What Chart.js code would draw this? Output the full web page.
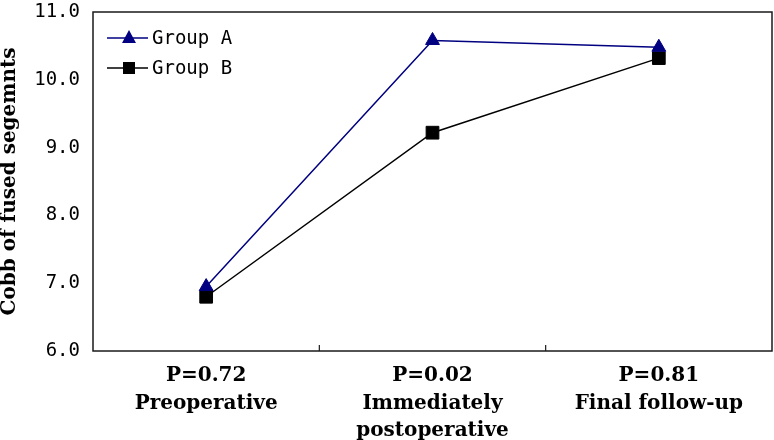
<!DOCTYPE html>
<html>
<head>
<meta charset="utf-8">
<script src="https://cdn.jsdelivr.net/npm/chart.js@4"></script>
<style>
  body { margin: 0; background: #fff; }
</style>
</head>
<body>
<canvas id="cobbChart" width="774" height="440"></canvas>
<script>
// categories (p value on first line)
let categories = [
  ["P=0.72", "Preoperative"],
  ["P=0.02", "Immediately", "postoperative"],
  ["P=0.81", "Final follow-up"],
];
let groupA = [6.95, 10.58, 10.48];
let groupB = [6.8, 9.22, 10.32];
let yTicks = [6.0, 7.0, 8.0, 9.0, 10.0, 11.0];

let navy = "#000080";

// frame, inner tick marks and the legend inside the plot
let framePlugin = {
  id: "frame",
  afterDraw(chart) {
    let ctx = chart.ctx;
    let a = chart.chartArea;
    let xs = chart.scales.x;
    ctx.save();
    ctx.strokeStyle = "#1a1a1a";
    ctx.lineWidth = 1.5;
    ctx.strokeRect(a.left, a.top, a.right - a.left, a.bottom - a.top);
    ctx.lineWidth = 1.2;
    for (let i = 0; i < categories.length - 1; i++) {
      let bx = (xs.getPixelForValue(i) + xs.getPixelForValue(i + 1)) / 2;
      ctx.beginPath();
      ctx.moveTo(bx, a.bottom);
      ctx.lineTo(bx, a.bottom - 6);
      ctx.stroke();
    }

    // legend
    let items = [
      { text: "Group A", color: navy, shape: "triangle", y: a.top + 26 },
      { text: "Group B", color: "#000", shape: "rect", y: a.top + 56 },
    ];
    ctx.font = "19px 'DejaVu Sans Mono'";
    ctx.textBaseline = "middle";
    ctx.textAlign = "left";
    items.forEach(function (it) {
      ctx.strokeStyle = it.color;
      ctx.fillStyle = it.color;
      ctx.lineWidth = 1.5;
      ctx.beginPath();
      ctx.moveTo(a.left + 14, it.y);
      ctx.lineTo(a.left + 55, it.y);
      ctx.stroke();
      let cx = a.left + 36;
      ctx.beginPath();
      if (it.shape === "triangle") {
        ctx.moveTo(cx, it.y - 8);
        ctx.lineTo(cx + 7, it.y + 5);
        ctx.lineTo(cx - 7, it.y + 5);
        ctx.closePath();
      } else {
        ctx.rect(cx - 6, it.y - 6, 12, 12);
      }
      ctx.fill();
      ctx.fillStyle = "#000";
      ctx.fillText(it.text, a.left + 59, it.y + 1);
    });
    ctx.restore();
  },
};

let config = {
  type: "line",
  data: {
    labels: categories,
    datasets: [
      {
        label: "Group A",
        data: groupA,
        borderColor: navy,
        backgroundColor: navy,
        borderWidth: 1.5,
        pointStyle: "triangle",
        pointRadius: 8,
        pointBorderWidth: 1,
      },
      {
        label: "Group B",
        data: groupB,
        borderColor: "#000",
        backgroundColor: "#000",
        borderWidth: 1.5,
        pointStyle: "rect",
        pointRadius: 9,
        pointBorderWidth: 1,
      },
    ],
  },
  options: {
    responsive: false,
    animation: false,
    layout: { autoPadding: false, padding: { top: 12, right: 2, left: 0, bottom: 0 } },
    plugins: {
      legend: { display: false },
      tooltip: { enabled: false },
    },
    scales: {
      x: {
        offset: true,
        grid: { display: false, drawTicks: false },
        border: { display: false },
        ticks: {
          color: "#000",
          font: { family: "'DejaVu Serif'", size: 20, weight: "bold", lineHeight: 1.38 },
          padding: 11,
          maxRotation: 0,
          autoSkip: false,
        },
        afterFit(s) {
          s.height = 89;
          s.paddingLeft = 0;
          s.paddingRight = 0;
        },
      },
      y: {
        min: yTicks[0],
        max: yTicks[yTicks.length - 1],
        afterBuildTicks(s) { s.ticks = yTicks.map(v => ({ value: v })); },
        grid: { display: false, drawTicks: false },
        border: { display: false },
        ticks: {
          color: "#000",
          font: { family: "'DejaVu Sans Mono'", size: 19 },
          padding: 13,
          callback: v => v.toFixed(1),
        },
        title: {
          display: true,
          text: "Cobb of fused segemnts",
          color: "#000",
          font: { family: "'DejaVu Serif'", size: 20, weight: "bold", lineHeight: 1 },
          padding: 0,
        },
        afterFit(s) {
          s.width = 93;
          s.paddingTop = 0;
          s.paddingBottom = 0;
        },
      },
    },
  },
  plugins: [framePlugin],
};

let cobbChart = new Chart(document.getElementById("cobbChart"), config);
</script>
</body>
</html>
